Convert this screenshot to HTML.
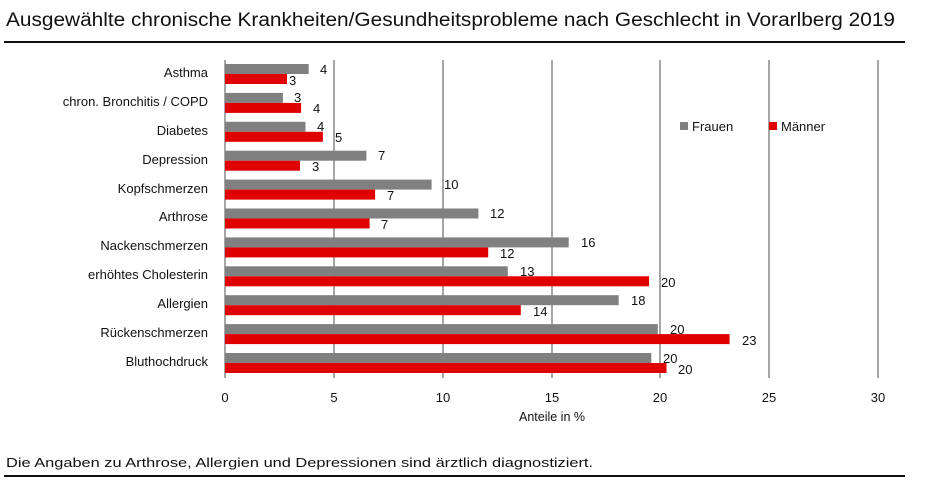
<!DOCTYPE html>
<html><head><meta charset="utf-8"><style>
body{margin:0;background:#fff;width:941px;height:482px;overflow:hidden}
svg{display:block;font-family:"Liberation Sans","DejaVu Sans",sans-serif}
</style></head><body>
<svg width="941" height="482" xmlns="http://www.w3.org/2000/svg">
<text x="6" y="26" font-size="19" fill="#111" textLength="889" lengthAdjust="spacingAndGlyphs">Ausgewählte chronische Krankheiten/Gesundheitsprobleme nach Geschlecht in Vorarlberg 2019</text>
<rect x="4" y="41" width="901" height="2" fill="#111"/>
<g stroke="#888" stroke-width="1.5">
<line x1="334" y1="60" x2="334" y2="378"/><line x1="443" y1="60" x2="443" y2="378"/>
<line x1="552" y1="60" x2="552" y2="378"/><line x1="660" y1="60" x2="660" y2="378"/>
<line x1="769" y1="60" x2="769" y2="378"/><line x1="878" y1="60" x2="878" y2="378"/>
<line x1="225" y1="60" x2="225" y2="378"/>
</g>
<g font-size="13" fill="#111" text-anchor="end">
<text x="208" y="77">Asthma</text>
<text x="208" y="106">chron. Bronchitis / COPD</text>
<text x="208" y="135">Diabetes</text>
<text x="208" y="164">Depression</text>
<text x="208" y="193">Kopfschmerzen</text>
<text x="208" y="221">Arthrose</text>
<text x="208" y="250">Nackenschmerzen</text>
<text x="208" y="279">erhöhtes Cholesterin</text>
<text x="208" y="308">Allergien</text>
<text x="208" y="337">Rückenschmerzen</text>
<text x="208" y="366">Bluthochdruck</text>
</g>
<g fill="#808080">
<rect x="225" y="64" width="83.7" height="10"/>
<rect x="225" y="92.9" width="57.9" height="10"/>
<rect x="225" y="121.8" width="80.5" height="10"/>
<rect x="225" y="150.7" width="141.4" height="10"/>
<rect x="225" y="179.6" width="206.6" height="10"/>
<rect x="225" y="208.5" width="253.4" height="10"/>
<rect x="225" y="237.4" width="343.7" height="10"/>
<rect x="225" y="266.3" width="282.8" height="10"/>
<rect x="225" y="295.2" width="393.7" height="10"/>
<rect x="225" y="324.1" width="432.8" height="10"/>
<rect x="225" y="353" width="426.3" height="10"/>
</g>
<g fill="#e00000">
<rect x="225" y="74" width="62" height="10"/>
<rect x="225" y="102.9" width="76.1" height="10"/>
<rect x="225" y="131.8" width="97.9" height="10"/>
<rect x="225" y="160.7" width="75" height="10"/>
<rect x="225" y="189.6" width="150.1" height="10"/>
<rect x="225" y="218.5" width="144.6" height="10"/>
<rect x="225" y="247.4" width="263.2" height="10"/>
<rect x="225" y="276.3" width="424.1" height="10"/>
<rect x="225" y="305.2" width="295.8" height="10"/>
<rect x="225" y="334.1" width="504.6" height="10"/>
<rect x="225" y="363" width="441.5" height="10"/>
</g>
<g font-size="13" fill="#111">
<text x="320" y="74">4</text><text x="289" y="85">3</text>
<text x="294" y="102">3</text><text x="313" y="113">4</text>
<text x="317" y="131">4</text><text x="335" y="142">5</text>
<text x="378" y="160">7</text><text x="312" y="171">3</text>
<text x="444" y="189">10</text><text x="387" y="200">7</text>
<text x="490" y="218">12</text><text x="381" y="229">7</text>
<text x="581" y="247">16</text><text x="500" y="258">12</text>
<text x="520" y="276">13</text><text x="661" y="287">20</text>
<text x="631" y="305">18</text><text x="533" y="316">14</text>
<text x="670" y="334">20</text><text x="742" y="345">23</text>
<text x="663" y="363">20</text><text x="678" y="374">20</text>
</g>
<g font-size="13" fill="#111" text-anchor="middle">
<text x="225" y="402">0</text><text x="334" y="402">5</text><text x="443" y="402">10</text>
<text x="552" y="402">15</text><text x="660" y="402">20</text><text x="769" y="402">25</text><text x="878" y="402">30</text>
<text x="552" y="421" font-size="12.5">Anteile in %</text>
</g>
<rect x="680" y="122" width="8" height="8" fill="#808080"/><text x="692" y="131" font-size="13" fill="#111">Frauen</text>
<rect x="769" y="122" width="8" height="8" fill="#e00000"/><text x="781" y="131" font-size="13" fill="#111">Männer</text>
<text x="6" y="467" font-size="13" fill="#111" textLength="587" lengthAdjust="spacingAndGlyphs">Die Angaben zu Arthrose, Allergien und Depressionen sind ärztlich diagnostiziert.</text>
<rect x="4" y="475" width="901" height="2" fill="#111"/>
</svg>
</body></html>
